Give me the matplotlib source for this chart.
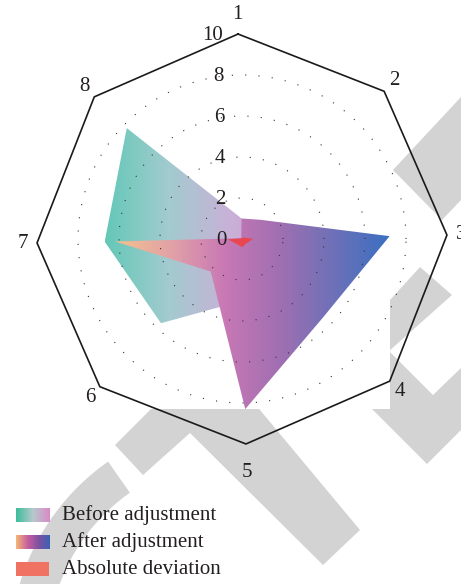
"""Radar chart: before / after adjustment and absolute deviation"""

import numpy as np
import matplotlib
matplotlib.use('Agg')
import matplotlib.pyplot as plt
from matplotlib.patches import Polygon, Rectangle, Wedge
from matplotlib.colors import LinearSegmentedColormap

# Data
axis_labels = ['1', '2', '3', '4', '5', '6', '7', '8']
ring_ticks = [0, 2, 4, 6, 8, 10]
before_vals = [1.0, 1.0, 2.5, 2.0, 3.0, 5.7, 6.7, 7.8]
after_vals = [1.0, 1.3, 7.2, 5.5, 8.3, 2.2, 6.2, 0.05]
deviation_vals = [0.05, 0.1, 0.55, 0.3, 0.4, 0.35, 0.7, 0.05]
series_names = ['Before adjustment', 'After adjustment', 'Absolute deviation']

TEXT = '#231f20'
FONT = 'Liberation Serif'
PX = 20.5          # pixels per data unit
CX, CY = 242, 239  # chart centre in pixels
ROT = 1.1          # the chart is turned slightly

before_cmap = LinearSegmentedColormap.from_list(
    'before', ['#63c8b7', '#a2cbcf', '#c9b1d7', '#d58dc7'])
after_cmap = LinearSegmentedColormap.from_list(
    'after', ['#f5c18e', '#e2a2a6', '#c878b5', '#a06fb1', '#6d71b8', '#3a6fc1'])
legend_before = LinearSegmentedColormap.from_list(
    'lb', ['#3bbd99', '#b6c9cc', '#d98ac6'])
legend_after = LinearSegmentedColormap.from_list(
    'la', ['#f3b874', '#c8609f', '#7f51a1', '#3a62b3'])
DEV_COLOR = '#e8474f'
DEV_LEGEND = '#f07262'

theta = np.deg2rad(90 + ROT - 45 * np.arange(len(axis_labels)))


def to_xy(vals):
    vals = np.asarray(vals, dtype=float)
    return np.column_stack([vals * np.cos(theta), vals * np.sin(theta)])


def gradient_poly(ax, vals, cmap, zorder):
    xy = to_xy(vals)
    poly = Polygon(xy, closed=True, facecolor='none', edgecolor='none')
    ax.add_patch(poly)
    x0, y0 = xy.min(axis=0)
    x1, y1 = xy.max(axis=0)
    # the image box is white outside the shape
    ax.add_patch(Rectangle((x0, y0), x1 - x0, y1 - y0, facecolor='white',
                           edgecolor='none', zorder=1))
    img = ax.imshow(np.linspace(0, 1, 256).reshape(1, -1), cmap=cmap,
                    aspect='auto', extent=(x0, x1, y0, y1), origin='lower',
                    interpolation='bicubic', zorder=zorder)
    img.set_clip_path(poly)


def main():
    fig = plt.figure(figsize=(4.61, 5.84), dpi=100)

    # background layer in pixel units: publisher watermark and legend
    bg = fig.add_axes([0, 0, 1, 1])
    bg.set_xlim(0, 461)
    bg.set_ylim(584, 0)
    bg.axis('off')
    grey = '#d3d3d3'
    for pts in ([(393, 170), (461, 97), (461, 200), (442, 220)],
                [(370, 322), (420, 267), (452, 295), (370, 368)],
                [(300, 337), (427, 464), (461, 430), (461, 368), (433, 395), (340, 302)],
                [(115, 445), (210, 350), (360, 530), (323, 565), (190, 433), (143, 475)]):
        bg.add_patch(Polygon(pts, closed=True, facecolor=grey, edgecolor='none'))
    bg.add_patch(Wedge((240, 650), 230, 160, 235, width=38, facecolor=grey,
                       edgecolor='none'))

    # legend
    grad = np.linspace(0, 1, 128).reshape(1, -1)
    rows = [515, 542, 569]
    for y, cm in zip(rows[:2], [legend_before, legend_after]):
        bg.imshow(grad, cmap=cm, aspect='auto', extent=(16, 49, y + 7, y - 7),
                  interpolation='bicubic', zorder=3)
    bg.add_patch(Rectangle((16, rows[2] - 7), 33, 14, facecolor=DEV_LEGEND,
                           edgecolor='none', zorder=3))
    for y, name in zip(rows, series_names):
        bg.text(62, y, name, fontsize=15, family=FONT, color=TEXT,
                va='center', ha='left', zorder=4)
    bg.set_xlim(0, 461)
    bg.set_ylim(584, 0)

    # chart layer in data units
    ax = fig.add_axes([0, 0, 1, 1])
    ax.patch.set_alpha(0)
    ax.axis('off')

    gradient_poly(ax, before_vals, before_cmap, 2)
    gradient_poly(ax, after_vals, after_cmap, 3)
    ax.add_patch(Polygon(to_xy(deviation_vals), closed=True,
                         facecolor=DEV_COLOR, edgecolor='none', zorder=4))

    # dotted rings
    t = np.linspace(0, 2 * np.pi, 400)
    for r in ring_ticks[1:-1]:
        ax.plot(r * np.cos(t), r * np.sin(t), color='#333333', lw=0.8,
                linestyle=(0, (1, 11)), zorder=5)

    # outer octagon
    frame = to_xy([ring_ticks[-1]] * len(axis_labels))
    frame = np.vstack([frame, frame[:1]])
    ax.plot(frame[:, 0], frame[:, 1], color='#1a1a1a', lw=1.2, zorder=6)

    # ring value labels along axis 1
    for r in ring_ticks:
        ax.text(r * np.cos(theta[0]) - 0.75, r * np.sin(theta[0]) - 0.05, str(r),
                fontsize=15, family=FONT, color=TEXT, ha='right',
                va='center', zorder=7)

    # axis labels
    for lab, a in zip(axis_labels, theta):
        if np.sin(a) > 0.99:
            rl = 10.95
        elif np.sin(a) < -0.99:
            rl = 11.4
        else:
            rl = 10.7
        ax.text(rl * np.cos(a), rl * np.sin(a), lab, fontsize=15, family=FONT,
                color=TEXT, ha='center', va='center', zorder=7)

    ax.set_xlim(-CX / PX, (461 - CX) / PX)
    ax.set_ylim((CY - 584) / PX, CY / PX)

    fig.savefig('out.png', dpi=100)


if __name__ == '__main__':
    main()
